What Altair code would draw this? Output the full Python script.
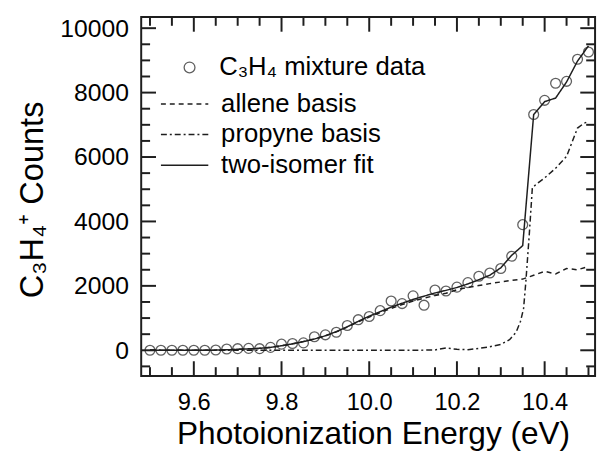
import altair as alt
import pandas as pd

# ---------------- data ----------------
energy = [9.500, 9.525, 9.550, 9.575, 9.600, 9.625, 9.650, 9.675, 9.700, 9.725,
          9.750, 9.775, 9.800, 9.825, 9.850, 9.875, 9.900, 9.925, 9.950, 9.975,
          10.000, 10.025, 10.050, 10.075, 10.100, 10.125, 10.150, 10.175, 10.200, 10.225,
          10.250, 10.275, 10.300, 10.325, 10.350, 10.375, 10.400, 10.425, 10.450, 10.475,
          10.500]

mixture_counts = [0, 0, 0, 0, 0, 0, 10, 40, 50, 60,
                  50, 90, 190, 210, 230, 420, 480, 560, 770, 950,
                  1050, 1230, 1530, 1450, 1690, 1400, 1870, 1840, 1960, 2100,
                  2300, 2400, 2540, 2920, 3900, 7320, 7760, 8290, 8350, 9035,
                  9260]

fit_counts = [0, 0, 0, 0, 0, 0, 5, 15, 30, 45,
              60, 90, 140, 200, 270, 350, 450, 580, 730, 900,
              1060, 1200, 1340, 1460, 1580, 1680, 1780, 1860, 1950, 2060,
              2190, 2330, 2560, 2950, 3250, 7320, 7720, 7830, 8330, 8980,
              9450]

allene_counts = [0, 0, 0, 0, 0, 0, 5, 15, 30, 45,
                 60, 90, 140, 200, 270, 350, 450, 570, 720, 880,
                 1030, 1170, 1300, 1420, 1530, 1620, 1700, 1770, 1880, 1950,
                 2010, 2070, 2120, 2170, 2210, 2330, 2450, 2370, 2540, 2500,
                 2600]

propyne_energy = [9.500, 9.600, 9.700, 9.800, 9.900, 10.000, 10.100, 10.150, 10.175, 10.200,
                  10.225, 10.250, 10.275, 10.300, 10.320, 10.335, 10.345, 10.352, 10.357, 10.365,
                  10.372, 10.385, 10.400, 10.425, 10.450, 10.475, 10.490, 10.500]
propyne_counts = [0, 0, 0, 0, 0, 0, 0, 10, 70, 30,
                  20, 60, 110, 180, 330, 560, 900, 1300, 2100, 3600,
                  5050, 5200, 5350, 5650, 6020, 6900, 7050, 7100]

series_names = ["allene basis", "propyne basis", "two-isomer fit"]
data_label = "C\u2083H\u2084 mixture data"

x_major = [9.6, 9.8, 10.0, 10.2, 10.4]
x_minor = [9.50, 9.55, 9.65, 9.70, 9.75, 9.85, 9.90, 9.95, 10.05, 10.10,
           10.15, 10.25, 10.30, 10.35, 10.45, 10.50]
y_major = [0, 2000, 4000, 6000, 8000, 10000]
y_minor = [-500, 500, 1000, 1500, 2500, 3000, 3500, 4500, 5000, 5500,
           6500, 7000, 7500, 8500, 9000, 9500]

# ---------------- styling ----------------
FONT = "Liberation Sans"
INK = "#1e1e1e"
W, H = 460, 364
MAJ, MIN = 15, 9

xs = alt.Scale(domain=[9.48, 10.515], nice=False, zero=False)
ys = alt.Scale(domain=[-800, 10350], nice=False, zero=False)

xaxis = alt.Axis(values=x_major, format=".1f", ticks=False, tickSize=0, domain=False, grid=False,
                 labelFont=FONT, labelFontSize=24, labelColor="black", labelPadding=15,
                 title="Photoionization Energy (eV)", titleFont=FONT, titleFontSize=32,
                 titleFontWeight="normal", titleColor="black", titleX=235, titleY=58,
                 titleBaseline="middle", titleAlign="center")
yaxis = alt.Axis(values=y_major, format="d", ticks=False, tickSize=0, domain=False, grid=False,
                 labelFont=FONT, labelFontSize=25, labelColor="black", labelPadding=13,
                 title="C\u2083H\u2084\u207a Counts", titleFont=FONT, titleFontSize=33,
                 titleFontWeight="normal", titleColor="black", titleX=-110, titleY=185,
                 titleBaseline="middle", titleAlign="center")


def X(field="E"):
    return alt.X(f"{field}:Q", scale=xs, axis=xaxis)


def Y(field="C"):
    return alt.Y(f"{field}:Q", scale=ys, axis=yaxis)


rows = []
for e, c in zip(energy, allene_counts):
    rows.append({"E": e, "C": c, "series": "allene basis"})
for e, c in zip(propyne_energy, propyne_counts):
    rows.append({"E": e, "C": c, "series": "propyne basis"})
for e, c in zip(energy, fit_counts):
    rows.append({"E": e, "C": c, "series": "two-isomer fit"})
lines_df = pd.DataFrame(rows)

pts_df = pd.DataFrame({"E": energy, "C": mixture_counts, "kind": [data_label] * len(energy)})

lines = alt.Chart(lines_df).mark_line(strokeWidth=1.5, color=INK).encode(
    x=X(), y=Y(),
    strokeDash=alt.StrokeDash(
        "series:N",
        scale=alt.Scale(domain=series_names, range=[[5, 4], [6, 3, 2, 3], [1, 0]]),
        legend=alt.Legend(title=None, orient="none", legendX=19, legendY=73,
                          symbolType="stroke", symbolSize=2304, symbolStrokeWidth=1.5,
                          symbolStrokeColor=INK, labelFont=FONT, labelFontSize=26,
                          labelColor="black", labelLimit=400, clipHeight=30.5,
                          rowPadding=0, padding=0, labelOffset=12),
    ),
)

points = alt.Chart(pts_df).mark_point(filled=False, size=100, strokeWidth=1.3, color=INK).encode(
    x=X(), y=Y(),
    shape=alt.Shape(
        "kind:N",
        scale=alt.Scale(domain=[data_label], range=["circle"]),
        legend=alt.Legend(title=None, orient="none", legendX=36, legendY=36,
                          symbolSize=120, symbolStrokeWidth=1.3, symbolStrokeColor=INK,
                          symbolFillColor="transparent", labelFont=FONT, labelFontSize=26,
                          labelColor="black", labelLimit=400, clipHeight=30.5,
                          rowPadding=0, padding=0, labelOffset=17),
    ),
)


def xticks(vals, length, bottom):
    df = pd.DataFrame({"E": vals})
    y0, y1 = (H, H - length) if bottom else (0, length)
    return alt.Chart(df).mark_rule(color=INK, strokeWidth=2).encode(
        x=X(), y=alt.value(y0), y2=alt.value(y1))


def yticks(vals, length, left):
    df = pd.DataFrame({"C": vals})
    x0, x1 = (0, length) if left else (W, W - length)
    return alt.Chart(df).mark_rule(color=INK, strokeWidth=2).encode(
        y=Y(), x=alt.value(x0), x2=alt.value(x1))


tick_layers = [
    xticks(x_major, MAJ, True), xticks(x_minor, MIN, True),
    xticks(x_major, MAJ, False), xticks(x_minor, MIN, False),
    yticks(y_major, MAJ, True), yticks(y_minor, MIN, True),
    yticks(y_major, MAJ, False), yticks(y_minor, MIN, False),
]

chart = alt.layer(lines, points, *tick_layers).properties(
    width=W, height=H,
    autosize=alt.AutoSizeParams(type="none"),
    padding={"left": 135, "top": 6, "right": 5, "bottom": 78},
    background="white",
).configure_view(stroke=INK, strokeWidth=2)

chart.save("out.html", embed_options={"renderer": "svg", "actions": False})
